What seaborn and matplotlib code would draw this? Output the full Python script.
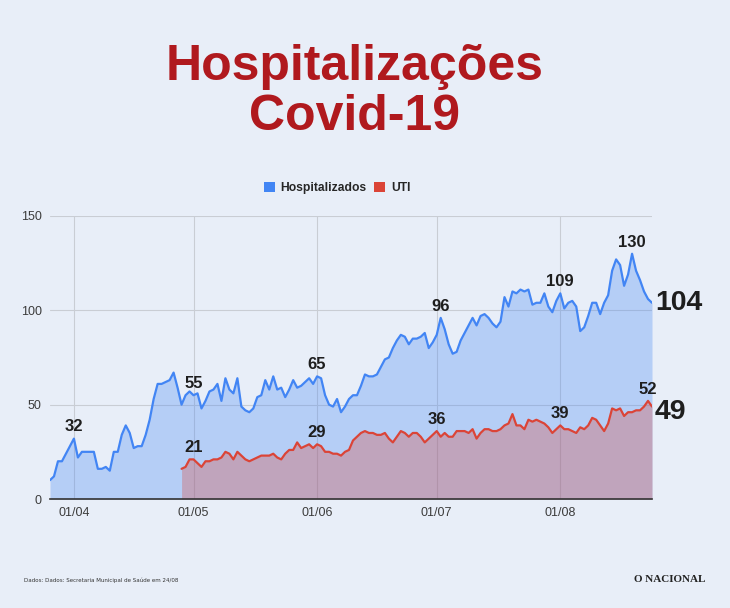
import matplotlib.pyplot as plt
import matplotlib.dates as mdates
from matplotlib.patches import Patch
import seaborn as sns
import pandas as pd

# dados diários (leitura do gráfico), 26/03 a 24/08
inicio = "2020-03-26"
fim = "2020-08-24"
inicio_uti = "2020-04-28"

hospitalizados = [10, 12, 20, 20, 24, 28, 32, 22, 25, 25, 25, 25, 16, 16, 17, 15,
                  25, 25, 34, 39, 35, 27, 28, 28, 34, 42, 53, 61, 61, 62, 63, 67,
                  59, 50, 55, 57, 55, 56, 48, 52, 57, 58, 61, 52, 64, 58, 56, 64,
                  49, 47, 46, 48, 54, 55, 63, 58, 65, 58, 59, 54, 58, 63, 59, 60,
                  62, 64, 61, 65, 64, 55, 50, 49, 53, 46, 49, 53, 55, 55, 60, 66,
                  65, 65, 66, 70, 74, 75, 80, 84, 87, 86, 82, 85, 85, 86, 88, 80,
                  83, 87, 96, 90, 82, 77, 78, 84, 88, 92, 96, 92, 97, 98, 96, 93,
                  91, 94, 107, 102, 110, 109, 111, 110, 111, 103, 104, 104, 109, 102,
                  99, 105, 109, 101, 104, 105, 102, 89, 91, 97, 104, 104, 98, 104,
                  108, 121, 127, 124, 113, 119, 130, 121, 116, 110, 106, 104]

uti = [16, 17, 21, 21, 19, 17, 20, 20, 21, 21, 22, 25, 24, 21, 25, 23,
       21, 20, 21, 22, 23, 23, 23, 24, 22, 21, 24, 26, 26, 30, 27, 28,
       29, 27, 29, 28, 25, 25, 24, 24, 23, 25, 26, 31, 33, 35, 36, 35,
       35, 34, 34, 35, 32, 30, 33, 36, 35, 33, 35, 35, 33, 30, 32, 34,
       36, 33, 35, 33, 33, 36, 36, 36, 35, 37, 32, 35, 37, 37, 36, 36,
       37, 39, 40, 45, 39, 39, 37, 42, 41, 42, 41, 40, 38, 35, 37, 39,
       37, 37, 36, 35, 38, 37, 39, 43, 42, 39, 36, 40, 48, 47, 48, 44,
       46, 46, 47, 47, 49, 52, 49]

# pontos com rótulo
rotulos_hosp = ["2020-04-01", "2020-05-01", "2020-06-01", "2020-07-02", "2020-08-01", "2020-08-19"]
rotulos_uti = ["2020-05-01", "2020-06-01", "2020-07-01", "2020-08-01", "2020-08-23"]

datas = pd.date_range(inicio, fim, freq="D")
datas_uti = pd.date_range(inicio_uti, fim, freq="D")
s_hosp = pd.Series(hospitalizados, index=datas)
s_uti = pd.Series(uti, index=datas_uti)

AZUL = "#4285F4"
VERMELHO = "#DB4437"
FUNDO = "#E8EEF8"
TITULO = "#B0191E"
TEXTO = "#1E1E1E"

sns.set_style("whitegrid")
plt.rcParams["font.family"] = ["Liberation Sans", "DejaVu Sans"]

fig = plt.figure(figsize=(7.3, 6.08), dpi=100, facecolor=FUNDO)
ax = fig.add_axes([50 / 730, 109 / 608, 602 / 730, 283 / 608])
ax.set_facecolor(FUNDO)

sns.lineplot(x=s_hosp.index, y=s_hosp.values, ax=ax, color=AZUL, linewidth=1.6)
ax.fill_between(s_hosp.index, 0, s_hosp.values, color=AZUL, alpha=0.3, linewidth=0)
sns.lineplot(x=s_uti.index, y=s_uti.values, ax=ax, color=VERMELHO, linewidth=1.6)
ax.fill_between(s_uti.index, 0, s_uti.values, color=VERMELHO, alpha=0.3, linewidth=0)

ax.set_xlim(datas[0], datas[-1])
ax.set_ylim(0, 150)
ax.set_yticks([0, 50, 100, 150])
ax.xaxis.set_major_locator(mdates.MonthLocator())
ax.xaxis.set_major_formatter(mdates.DateFormatter("%d/%m"))
ax.set_xticks([d for d in ax.get_xticks() if mdates.num2date(d).month >= 4])
ax.tick_params(axis="both", length=0, labelsize=9, labelcolor="#3C3C3C", pad=6)
ax.grid(color="#C9CDD4", linewidth=0.8)
for lado in ["top", "right", "left"]:
    ax.spines[lado].set_visible(False)
ax.spines["bottom"].set_color("#333333")
ax.spines["bottom"].set_linewidth(1.2)
ax.set_xlabel("")
ax.set_ylabel("")

# rótulos de valores
for d in rotulos_hosp:
    v = s_hosp[d]
    ax.annotate(str(v), (pd.Timestamp(d), v), xytext=(0, 3), textcoords="offset points",
                ha="center", va="bottom", fontsize=12, fontweight="bold", color=TEXTO)
for d in rotulos_uti:
    v = s_uti[d]
    ax.annotate(str(v), (pd.Timestamp(d), v), xytext=(0, 3), textcoords="offset points",
                ha="center", va="bottom", fontsize=12, fontweight="bold", color=TEXTO)

# últimos valores
ax.annotate(str(s_hosp.iloc[-1]), (s_hosp.index[-1], s_hosp.iloc[-1]), xytext=(2, 0),
            textcoords="offset points", ha="left", va="center", fontsize=20.5,
            fontweight="bold", color=TEXTO, annotation_clip=False)
ax.annotate(str(s_uti.iloc[-1]), (s_uti.index[-1], s_uti.iloc[-1]), xytext=(2, -4),
            textcoords="offset points", ha="left", va="center", fontsize=20.5,
            fontweight="bold", color=TEXTO, annotation_clip=False)

# título
fig.text(0.486, 1 - 80 / 608, "Hospitalizações", ha="center", va="baseline",
         fontsize=36, fontweight="bold", color=TITULO)
fig.text(0.486, 1 - 130 / 608, "Covid-19", ha="center", va="baseline",
         fontsize=36, fontweight="bold", color=TITULO)

# legenda
handles = [Patch(facecolor=AZUL, edgecolor="none", label="Hospitalizados"),
           Patch(facecolor=VERMELHO, edgecolor="none", label="UTI")]
fig.legend(handles=handles, loc="center", bbox_to_anchor=(337 / 730, 1 - 188 / 608),
           ncol=2, frameon=False, handlelength=0.9, handleheight=0.9,
           handletextpad=0.5, columnspacing=0.6, prop={"weight": "bold", "size": 8.7})

# rodapé
fig.text(24 / 730, 1 - 580 / 608, "Dados: Dados: Secretaria Municipal de Saúde em 24/08",
         ha="left", va="center", fontsize=4, color="#333333",
         family=["Liberation Sans Narrow", "DejaVu Sans"])
fig.text(705 / 730, 1 - 579 / 608, "O NACIONAL", ha="right", va="center",
         fontsize=8, fontweight="bold", color="#222222",
         family=["Liberation Serif", "DejaVu Serif"])

fig.savefig("out.png", dpi=100, facecolor=FUNDO)
